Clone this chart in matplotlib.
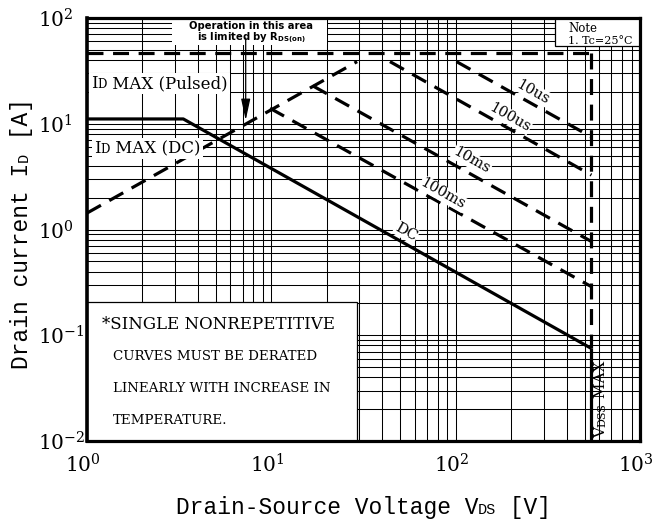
import numpy as np
import matplotlib
matplotlib.use("Agg")
from matplotlib import pyplot as plt
from matplotlib.patches import Rectangle
from matplotlib.transforms import Bbox, IdentityTransform, ScaledTranslation

# ---- data (V in volts, I in amps) ----
rds_v = [1.0, 29.2]
rds_i = [1.43, 38.7]
pulsed_v = [1.0, 545.0]
pulsed_i = [46.4, 46.4]
dc_v = [1.0, 3.33, 545.0]
dc_i = [11.1, 11.1, 0.075]
us10_v = [101.0, 545.0]
us10_i = [38.7, 7.5]
us100_v = [44.0, 545.0]
us100_i = [38.7, 3.27]
ms10_v = [16.8, 545.0]
ms10_i = [22.8, 0.77]
ms100_v = [9.84, 545.0]
ms100_i = [14.0, 0.288]
vdss_v = [545.0, 545.0]
vdss_dash_i = [46.4, 0.075]
vdss_solid_i = [0.075, 0.01]

curve_labels = ["10us", "100us", "10ms", "100ms", "DC"]
label_xy = [(263, 20.0), (197, 11.5), (122, 4.48), (85.4, 2.17), (53.8, 0.947)]

x_exps = [0, 1, 2, 3]
y_exps = [-2, -1, 0, 1, 2]

derate_lines = ["CURVES MUST BE DERATED", "LINEARLY WITH INCREASE IN", "TEMPERATURE."]
derate_y = [0.058, 0.029, 0.0146]

SERIF = "DejaVu Serif"
MONO = "Liberation Mono"

plt.rcParams["mathtext.fontset"] = "dejavuserif"

fig = plt.figure(figsize=(6.53, 5.2), dpi=100)
W, H = 653, 520
ax = fig.add_axes([87 / W, 1 - 441 / H, (640 - 87) / W, (441 - 18) / H])
ax.set_xscale("log")
ax.set_yscale("log")
ax.set_xlim(1, 1000)
ax.set_ylim(0.01, 100)

ax.set_xticks([10.0 ** e for e in x_exps])
ax.set_xticklabels([r"$10^{%d}$" % e for e in x_exps])
ax.set_yticks([10.0 ** e for e in y_exps])
ax.set_yticklabels([r"$10^{%d}$" % e for e in y_exps])
ax.tick_params(which="both", length=0, labelsize=14.5)
ax.tick_params(axis="x", pad=9)
ax.tick_params(axis="y", pad=35)
shift = ScaledTranslation(-4 / 100, 0, fig.dpi_scale_trans)
for lbl in ax.get_xticklabels():
    lbl.set_transform(lbl.get_transform() + shift)
for lbl in ax.get_yticklabels():
    lbl.set_ha("left")
ax.set_axisbelow(True)
ax.grid(which="both", color="k", lw=0.75)
for side, sp in ax.spines.items():
    sp.set_linewidth(2.6 if side == "left" else 2.3)
    sp.set_zorder(6)

dash = (5.0, 3.0)
lw = 2.3
ax.plot(rds_v, rds_i, "k", lw=lw, dashes=dash)
ax.plot(pulsed_v, pulsed_i, "k", lw=lw, dashes=dash)
ax.plot(us10_v, us10_i, "k", lw=lw, dashes=dash)
ax.plot(us100_v, us100_i, "k", lw=lw, dashes=dash)
ax.plot(ms10_v, ms10_i, "k", lw=lw, dashes=dash)
ax.plot(ms100_v, ms100_i, "k", lw=lw, dashes=dash)
ax.plot(vdss_v, vdss_dash_i, "k", lw=lw, dashes=dash)
ax.plot(dc_v, dc_i, "k", lw=lw, solid_capstyle="butt")
ax.plot(vdss_v, vdss_solid_i, "k", lw=lw, solid_capstyle="butt")

# white patches over the grid
ax.add_patch(Rectangle((1, 0.01), 29.2 - 1, 0.207 - 0.01, fc="white", ec="k", lw=0.9, zorder=1))
ax.add_patch(Rectangle((346, 54.4), 1000 - 346, 100 - 54.4, fc="white", ec="k", lw=0.9, zorder=1))
ax.add_patch(Rectangle((2.89, 55.0), 20.1 - 2.89, 100 - 55.0, fc="white", ec="none", zorder=1))

rend = fig.canvas.get_renderer()


def advance(s, size, **kw):
    t = fig.text(0, 0, s + "|", fontsize=size, **kw)
    b = fig.text(0, 0, "|", fontsize=size, **kw)
    adv = t.get_window_extent(rend).width - b.get_window_extent(rend).width
    t.remove()
    b.remove()
    return adv


def put_runs(px, py, runs, rotation=0, bg=False, center=False, **kw):
    """write text pieces of different sizes one after another (small caps).
    px, py: pixel position from the top-left corner of the picture"""
    a = np.deg2rad(rotation)
    py = H - py
    advs = [advance(s, size, **kw) for s, size in runs]
    if center:
        tot = sum(advs)
        px -= tot / 2 * np.cos(a)
        py -= tot / 2 * np.sin(a)
    x, y = px, py
    placed = []
    for (s, size), adv in zip(runs, advs):
        t = fig.text(x, y, s, fontsize=size, rotation=rotation, rotation_mode="anchor",
                     ha="left", va="baseline", transform=IdentityTransform(), zorder=5, **kw)
        placed.append(t)
        x += adv * np.cos(a)
        y += adv * np.sin(a)
    if bg:
        bb = Bbox.union([t.get_window_extent(rend) for t in placed])
        fig.add_artist(Rectangle((bb.x0 - 2, bb.y0 - 2), bb.width + 4, bb.height + 4,
                                 fc="white", ec="none", zorder=4,
                                 transform=IdentityTransform()))


def data_px(x, y):
    return ax.transData.transform((x, y))


# axis titles
put_runs(363.5, 514, [("Drain-Source Voltage V", 16.5), ("DS", 11), (" [V]", 16.5)],
         center=True, family=MONO)
put_runs(28, 233.5, [("Drain current I", 16.5), ("D", 11), (" [A]", 16.5)],
         rotation=90, center=True, family=MONO)

# ID MAX labels
put_runs(91, 88, [("I", 12), ("D", 8.5), (" MAX (Pulsed)", 12)], bg=True, family=SERIF)
put_runs(94, 153, [("I", 12), ("D", 8.5), (" MAX (DC)", 12)], bg=True, family=SERIF)

# VDSS MAX
put_runs(605, 438, [("V", 11), ("DSS", 8), (" MAX", 11)], rotation=90, family=SERIF)

# curve labels rotated along the lines
p0 = data_px(dc_v[1], dc_i[1])
p1 = data_px(dc_v[2], dc_i[2])
ang = np.degrees(np.arctan2(p1[1] - p0[1], p1[0] - p0[0]))
for s, (x, y) in zip(curve_labels, label_xy):
    ax.text(x, y, s, rotation=ang, rotation_mode="anchor", ha="center", va="center",
            family=SERIF, fontsize=10.5, zorder=5,
            bbox=dict(fc="white", ec="none", pad=0.5))

# operation-area note and arrow
ax.text(7.76, 93.7, "Operation in this area\nis limited by R$_{\\mathregular{DS(on)}}$",
        ha="center", va="top", fontsize=7.2, fontweight="bold", family="DejaVu Sans",
        linespacing=1.0, zorder=5)
ax.annotate("", xy=(7.26, 10.8), xytext=(7.26, 64.7),
            arrowprops=dict(arrowstyle="-|>,head_length=0.65,head_width=0.14",
                            color="k", lw=0.9, mutation_scale=20, shrinkA=0, shrinkB=0),
            zorder=5)

ax.text(407, 73.8, "Note", ha="left", va="baseline", family=SERIF, fontsize=8.5, zorder=5)
ax.text(407, 56.8, "1. Tc=25°C", ha="left", va="baseline", family=SERIF, fontsize=8, zorder=5)

# derating note in the lower left box
ax.text(1.20, 0.115, "*SINGLE NONREPETITIVE", ha="left", va="baseline", family=SERIF,
        fontsize=12, zorder=5)
for s, y in zip(derate_lines, derate_y):
    ax.text(1.38, y, s, ha="left", va="baseline", family=SERIF, fontsize=9.6, zorder=5)

fig.savefig("out.png", dpi=100)
